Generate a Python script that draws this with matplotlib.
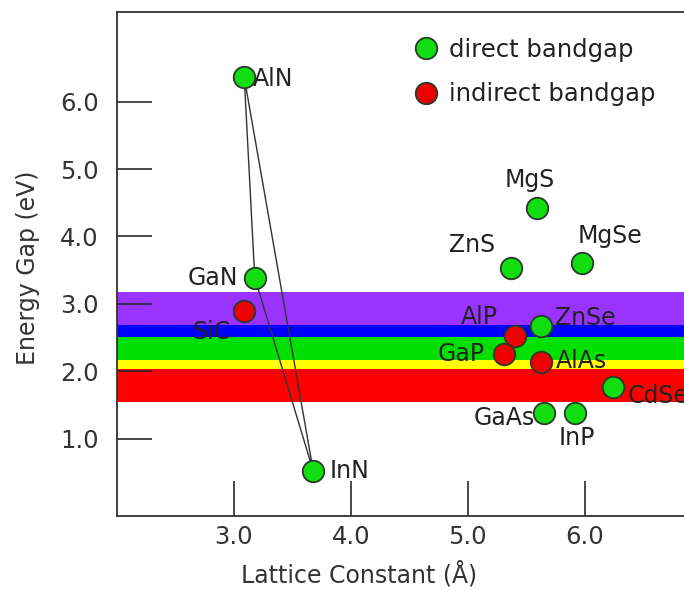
import matplotlib
matplotlib.use("Agg")
import matplotlib.pyplot as plt

# ---- data ----
names = ["AlN", "GaN", "SiC", "InN", "MgS", "ZnS", "MgSe", "ZnSe",
         "AlP", "GaP", "AlAs", "CdSe", "GaAs", "InP"]
lattice = [3.09, 3.18, 3.09, 3.68, 5.59, 5.37, 5.98, 5.63,
           5.40, 5.31, 5.63, 6.24, 5.65, 5.92]
gap = [6.36, 3.39, 2.89, 0.52, 4.42, 3.53, 3.60, 2.67,
       2.52, 2.25, 2.14, 1.76, 1.38, 1.38]
kind = ["direct", "direct", "indirect", "direct", "direct", "direct", "direct",
        "direct", "indirect", "indirect", "indirect", "direct", "direct", "direct"]

# nitride alloy triangle (AlN -> GaN -> InN -> AlN)
triangle = ["AlN", "GaN", "InN", "AlN"]

# visible-spectrum bands (eV)
band_edges = [1.55, 2.04, 2.17, 2.51, 2.69, 3.18]
band_colors = ["#ff0000", "#ffff00", "#00e000", "#0000ff", "#9933ff"]

x_ticks = [3.0, 4.0, 5.0, 6.0]
y_ticks = [1.0, 2.0, 3.0, 4.0, 5.0, 6.0]

# ---- styling ----
plt.rcParams["font.family"] = ["DejaVu Sans"]
GREEN = "#11dd11"
RED = "#ee0000"
EDGE = "#2a3a2a"
TXT = "#222222"

W, H = 684, 590
fig = plt.figure(figsize=(W / 100, H / 100), dpi=100)
left_px, right_px, top_px, bot_px = 116.7, 701.7, 11.7, 515.5
ax = fig.add_axes([left_px / W, 1 - bot_px / H,
                   (right_px - left_px) / W, (bot_px - top_px) / H])
ax.set_xlim(2.0, 7.0)
ax.set_ylim(-0.14, 7.335)

for i in range(len(band_colors)):
    ax.axhspan(band_edges[i], band_edges[i + 1], color=band_colors[i],
               lw=0, zorder=1)

idx = {n: i for i, n in enumerate(names)}
tx = [lattice[idx[n]] for n in triangle]
ty = [gap[idx[n]] for n in triangle]
ax.plot(tx, ty, color="#333333", lw=1.0, zorder=2)

for k, col, lab in [("direct", GREEN, "direct bandgap"),
                    ("indirect", RED, "indirect bandgap")]:
    xs = [lattice[i] for i in range(len(names)) if kind[i] == k]
    ys = [gap[i] for i in range(len(names)) if kind[i] == k]
    ax.plot(xs, ys, "o", ms=15.5, mfc=col, mec=EDGE, mew=1.3, ls="none",
            zorder=4, label=lab)

# label offsets in pixels (dx, dy, ha)
offsets = {
    "AlN": (9, -2, "left"), "GaN": (-17, 0, "right"), "SiC": (-33, -21, "center"),
    "InN": (16, 0, "left"), "MgS": (-7, 28, "center"), "ZnS": (-39, 23, "center"),
    "MgSe": (28, 27, "center"), "ZnSe": (14, 8, "left"), "AlP": (-35, 19, "center"),
    "GaP": (-19, 0, "right"), "AlAs": (14, 1, "left"), "CdSe": (15, -9, "left"),
    "GaAs": (-9, -5, "right"), "InP": (1, -25, "center"),
}
for i, n in enumerate(names):
    dx, dy, ha = offsets[n]
    ax.annotate(n, (lattice[i], gap[i]), xytext=(dx, dy),
                textcoords="offset pixels", ha=ha, va="center",
                fontsize=17, color=TXT, zorder=5, annotation_clip=False)

ax.set_xticks(x_ticks)
ax.set_xticklabels([f"{v:.1f}" for v in x_ticks])
ax.set_yticks(y_ticks)
ax.set_yticklabels([f"{v:.1f}" for v in y_ticks])
ax.tick_params(axis="both", direction="in", length=25.5, width=1.2,
               color="#2a2a2a", labelsize=17.5, labelcolor="#333333", zorder=3)
ax.tick_params(axis="y", pad=13)
ax.tick_params(axis="x", pad=7)
for s in ["left", "top", "bottom"]:
    ax.spines[s].set_linewidth(1.3)
    ax.spines[s].set_color("#333333")
    ax.spines[s].set_zorder(6)
ax.spines["right"].set_visible(False)

ax.set_xlabel("Lattice Constant (Å)", fontsize=17, color="#333333")
ax.xaxis.set_label_coords((358.7 - left_px) / (right_px - left_px),
                          (bot_px - 561) / (bot_px - top_px))
ax.set_ylabel("Energy Gap (eV)", fontsize=17, color="#333333")
ax.yaxis.set_label_coords((40 - left_px) / (right_px - left_px), 0.492)

leg = ax.legend(loc="upper left", bbox_to_anchor=(414.7 / W, 1 - 38 / H),
                bbox_transform=fig.transFigure, frameon=False, fontsize=17.5,
                handlelength=0.9, handletextpad=0.5, labelspacing=0.84,
                borderpad=0, borderaxespad=0, markerscale=1.0)
for t in leg.get_texts():
    t.set_color(TXT)

fig.savefig("out.png", dpi=100)
